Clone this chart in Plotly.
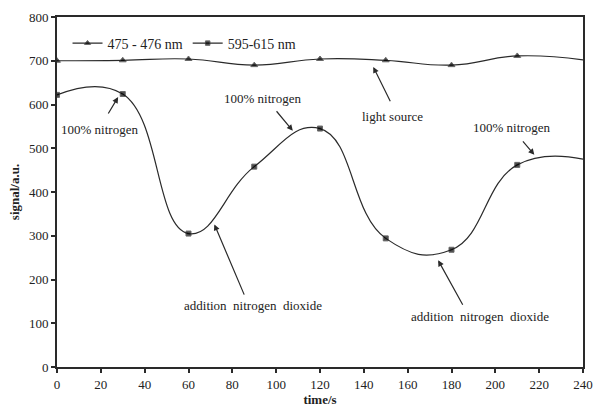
import plotly.graph_objects as go

time_s = [0, 30, 60, 90, 120, 150, 180, 210, 240]
sig_475 = [700, 701, 704, 690, 704, 701, 690, 711, 702]
sig_595 = [622, 624, 305, 458, 545, 294, 268, 462, 475]

x_ticks = list(range(0, 241, 20))
y_ticks = list(range(0, 801, 100))

FONT = "Liberation Serif"
INK = "#2a2a2a"

# last point sits on the right frame; the reference shows no marker there
tri_sizes = [6] * (len(time_s) - 1) + [0]
sq_sizes = [5] * (len(time_s) - 1) + [0]

fig = go.Figure()
fig.add_trace(go.Scatter(
    x=time_s, y=sig_475, name="475 - 476 nm", mode="lines+markers",
    line=dict(color=INK, width=1.2, shape="spline", smoothing=1.3),
    marker=dict(symbol="triangle-up", size=tri_sizes, color="black"),
))
fig.add_trace(go.Scatter(
    x=time_s, y=sig_595, name="595-615 nm", mode="lines+markers",
    line=dict(color=INK, width=1.2, shape="spline", smoothing=1.3),
    marker=dict(symbol="square", size=sq_sizes, color="black"),
))

# annotations: (text, text_x, text_y, head_x, head_y, tail_x, tail_y)
notes = [
    ("100% nitrogen", 19.6, 544, 27.9, 617, 23.0, 576),
    ("100% nitrogen", 93.7, 613, 107.6, 540, 99.6, 588),
    ("light source", 152.9, 572, 144.3, 686, 152.4, 604),
    ("100% nitrogen", 207.5, 547, 217.8, 485, 212.0, 519),
    ("addition  nitrogen  dioxide", 89.3, 141, 71.8, 326, 85.7, 162),
    ("addition  nitrogen  dioxide", 193.2, 116, 173.9, 244, 185.5, 139),
]
for txt, tx, ty, hx, hy, axx, ayy in notes:
    fig.add_annotation(x=tx, y=ty, text=txt, showarrow=False,
                       font=dict(family=FONT, size=13, color="#222"))
    fig.add_annotation(x=hx, y=hy, ax=axx, ay=ayy, xref="x", yref="y",
                       axref="x", ayref="y", text="", showarrow=True,
                       arrowhead=2, arrowsize=1, arrowwidth=1.2,
                       arrowcolor=INK)

axis_common = dict(
    showline=True, linecolor=INK, linewidth=2, mirror=True,
    ticks="outside", ticklen=4, tickcolor=INK, tickwidth=1.5,
    showgrid=False, zeroline=False,
    tickfont=dict(family=FONT, size=13, color="#222"),
)
fig.update_xaxes(range=[0, 240], tickvals=x_ticks,
                 title=dict(text="<b>time/s</b>", standoff=2,
                            font=dict(family=FONT, size=13, color="#222")),
                 **axis_common)
fig.update_yaxes(range=[0, 800], tickvals=y_ticks,
                 title=dict(text="<b>signal/a.u.</b>", standoff=6,
                            font=dict(family=FONT, size=13, color="#222")),
                 **axis_common)

fig.update_layout(
    width=602, height=412,
    margin=dict(l=57, r=9, t=17, b=44),
    paper_bgcolor="white", plot_bgcolor="white",
    font=dict(family=FONT, size=13, color="#222"),
    legend=dict(orientation="h", x=0.02, y=0.97, xanchor="left", yanchor="top",
                bgcolor="rgba(0,0,0,0)", font=dict(family=FONT, size=14),
                itemwidth=30, tracegroupgap=0),
    showlegend=True,
)

fig.write_html("out.html")
